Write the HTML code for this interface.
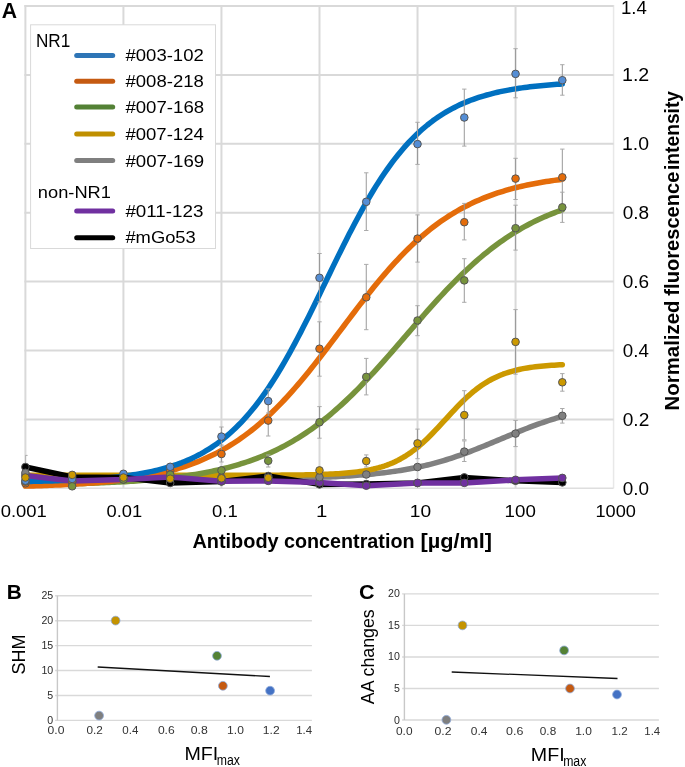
<!DOCTYPE html>
<html><head><meta charset="utf-8"><style>
html,body{margin:0;padding:0;background:#fff;}
body{width:685px;height:767px;position:relative;overflow:hidden;font-family:"Liberation Sans",sans-serif;}
svg{will-change:transform;}
</style></head><body>
<svg width="685" height="767" viewBox="0 0 685 767" style="position:absolute;left:0;top:0">
<rect width="685" height="767" fill="#fff"/>
<line x1="25.40" y1="5.00" x2="25.40" y2="488.30" stroke="#d9d9d9" stroke-width="2"/>
<line x1="123.43" y1="5.00" x2="123.43" y2="488.30" stroke="#d9d9d9" stroke-width="2"/>
<line x1="221.46" y1="5.00" x2="221.46" y2="488.30" stroke="#d9d9d9" stroke-width="2"/>
<line x1="319.49" y1="5.00" x2="319.49" y2="488.30" stroke="#d9d9d9" stroke-width="2"/>
<line x1="417.52" y1="5.00" x2="417.52" y2="488.30" stroke="#d9d9d9" stroke-width="2"/>
<line x1="515.55" y1="5.00" x2="515.55" y2="488.30" stroke="#d9d9d9" stroke-width="2"/>
<line x1="613.58" y1="5.00" x2="613.58" y2="488.30" stroke="#e8e8e8" stroke-width="1.5"/>
<line x1="24.40" y1="419.40" x2="613.58" y2="419.40" stroke="#d9d9d9" stroke-width="2"/>
<line x1="24.40" y1="350.50" x2="613.58" y2="350.50" stroke="#d9d9d9" stroke-width="2"/>
<line x1="24.40" y1="281.60" x2="613.58" y2="281.60" stroke="#d9d9d9" stroke-width="2"/>
<line x1="24.40" y1="212.70" x2="613.58" y2="212.70" stroke="#d9d9d9" stroke-width="2"/>
<line x1="24.40" y1="143.80" x2="613.58" y2="143.80" stroke="#d9d9d9" stroke-width="2"/>
<line x1="24.40" y1="74.90" x2="613.58" y2="74.90" stroke="#d9d9d9" stroke-width="2"/>
<line x1="24.40" y1="6.00" x2="613.58" y2="6.00" stroke="#d9d9d9" stroke-width="2"/>
<line x1="24.40" y1="488.30" x2="613.58" y2="488.30" stroke="#dedede" stroke-width="1.5"/>
<path d="M25.40,478.99L28.10,478.99L30.80,478.99L33.49,478.99L36.19,478.99L38.89,478.99L41.59,478.99L44.29,478.98L46.98,478.98L49.68,478.98L52.38,478.98L55.08,478.98L57.78,478.98L60.48,478.98L63.17,478.98L65.87,478.98L68.57,478.98L71.27,478.98L73.97,478.98L76.66,478.98L79.36,478.98L82.06,478.98L84.76,478.98L87.46,478.98L90.15,478.98L92.85,478.98L95.55,478.97L98.25,478.97L100.95,478.97L103.64,478.97L106.34,478.97L109.04,478.97L111.74,478.97L114.44,478.97L117.14,478.97L119.83,478.96L122.53,478.96L125.23,478.96L127.93,478.96L130.63,478.96L133.32,478.96L136.02,478.95L138.72,478.95L141.42,478.95L144.12,478.95L146.81,478.95L149.51,478.94L152.21,478.94L154.91,478.94L157.61,478.93L160.31,478.93L163.00,478.93L165.70,478.92L168.40,478.92L171.10,478.92L173.80,478.91L176.49,478.91L179.19,478.90L181.89,478.90L184.59,478.89L187.29,478.89L189.98,478.88L192.68,478.87L195.38,478.87L198.08,478.86L200.78,478.85L203.47,478.84L206.17,478.83L208.87,478.82L211.57,478.82L214.27,478.80L216.97,478.79L219.66,478.78L222.36,478.77L225.06,478.76L227.76,478.74L230.46,478.73L233.15,478.71L235.85,478.70L238.55,478.68L241.25,478.66L243.95,478.64L246.64,478.62L249.34,478.60L252.04,478.58L254.74,478.55L257.44,478.53L260.13,478.50L262.83,478.47L265.53,478.44L268.23,478.41L270.93,478.38L273.63,478.34L276.32,478.30L279.02,478.26L281.72,478.22L284.42,478.18L287.12,478.13L289.81,478.08L292.51,478.03L295.21,477.97L297.91,477.91L300.61,477.85L303.30,477.78L306.00,477.71L308.70,477.64L311.40,477.56L314.10,477.48L316.79,477.39L319.49,477.30L322.19,477.20L324.89,477.10L327.59,476.99L330.29,476.88L332.98,476.75L335.68,476.63L338.38,476.49L341.08,476.35L343.78,476.20L346.47,476.04L349.17,475.88L351.87,475.70L354.57,475.51L357.27,475.32L359.96,475.11L362.66,474.90L365.36,474.67L368.06,474.43L370.76,474.18L373.46,473.91L376.15,473.63L378.85,473.34L381.55,473.03L384.25,472.71L386.95,472.37L389.64,472.02L392.34,471.64L395.04,471.25L397.74,470.85L400.44,470.42L403.13,469.97L405.83,469.50L408.53,469.02L411.23,468.51L413.93,467.97L416.62,467.42L419.32,466.84L422.02,466.24L424.72,465.62L427.42,464.97L430.12,464.30L432.81,463.60L435.51,462.88L438.21,462.13L440.91,461.36L443.61,460.57L446.30,459.75L449.00,458.90L451.70,458.03L454.40,457.14L457.10,456.22L459.79,455.28L462.49,454.32L465.19,453.34L467.89,452.33L470.59,451.31L473.28,450.27L475.98,449.22L478.68,448.15L481.38,447.07L484.08,445.97L486.78,444.86L489.47,443.75L492.17,442.63L494.87,441.50L497.57,440.37L500.27,439.23L502.96,438.10L505.66,436.97L508.36,435.85L511.06,434.72L513.76,433.61L516.45,432.51L519.15,431.42L521.85,430.33L524.55,429.27L527.25,428.22L529.94,427.18L532.64,426.17L535.34,425.17L538.04,424.19L540.74,423.24L543.44,422.31L546.13,421.39L548.83,420.51L551.53,419.64L554.23,418.81L556.93,417.99L559.62,417.20L562.32,416.44" fill="none" stroke="#808080" stroke-width="5.5" stroke-linecap="round" stroke-linejoin="round"/>
<path d="M25.40,475.30L28.10,475.30L30.80,475.30L33.49,475.30L36.19,475.30L38.89,475.30L41.59,475.30L44.29,475.30L46.98,475.30L49.68,475.30L52.38,475.30L55.08,475.30L57.78,475.30L60.48,475.30L63.17,475.30L65.87,475.30L68.57,475.30L71.27,475.30L73.97,475.30L76.66,475.30L79.36,475.30L82.06,475.30L84.76,475.30L87.46,475.30L90.15,475.30L92.85,475.30L95.55,475.30L98.25,475.30L100.95,475.30L103.64,475.30L106.34,475.30L109.04,475.30L111.74,475.30L114.44,475.30L117.14,475.30L119.83,475.30L122.53,475.30L125.23,475.30L127.93,475.30L130.63,475.30L133.32,475.30L136.02,475.30L138.72,475.30L141.42,475.30L144.12,475.30L146.81,475.30L149.51,475.30L152.21,475.30L154.91,475.30L157.61,475.30L160.31,475.30L163.00,475.30L165.70,475.30L168.40,475.30L171.10,475.30L173.80,475.30L176.49,475.30L179.19,475.30L181.89,475.30L184.59,475.30L187.29,475.29L189.98,475.29L192.68,475.29L195.38,475.29L198.08,475.29L200.78,475.29L203.47,475.29L206.17,475.29L208.87,475.29L211.57,475.29L214.27,475.29L216.97,475.28L219.66,475.28L222.36,475.28L225.06,475.28L227.76,475.28L230.46,475.27L233.15,475.27L235.85,475.27L238.55,475.27L241.25,475.26L243.95,475.26L246.64,475.25L249.34,475.25L252.04,475.24L254.74,475.24L257.44,475.23L260.13,475.22L262.83,475.21L265.53,475.20L268.23,475.19L270.93,475.18L273.63,475.17L276.32,475.15L279.02,475.14L281.72,475.12L284.42,475.10L287.12,475.07L289.81,475.05L292.51,475.02L295.21,474.99L297.91,474.96L300.61,474.92L303.30,474.88L306.00,474.83L308.70,474.78L311.40,474.72L314.10,474.66L316.79,474.58L319.49,474.51L322.19,474.42L324.89,474.32L327.59,474.21L330.29,474.09L332.98,473.96L335.68,473.81L338.38,473.65L341.08,473.47L343.78,473.26L346.47,473.04L349.17,472.80L351.87,472.52L354.57,472.22L357.27,471.89L359.96,471.52L362.66,471.12L365.36,470.67L368.06,470.18L370.76,469.63L373.46,469.04L376.15,468.38L378.85,467.66L381.55,466.87L384.25,466.01L386.95,465.07L389.64,464.04L392.34,462.93L395.04,461.71L397.74,460.40L400.44,458.98L403.13,457.45L405.83,455.81L408.53,454.05L411.23,452.16L413.93,450.16L416.62,448.04L419.32,445.80L422.02,443.45L424.72,440.99L427.42,438.42L430.12,435.77L432.81,433.02L435.51,430.21L438.21,427.34L440.91,424.42L443.61,421.48L446.30,418.53L449.00,415.58L451.70,412.65L454.40,409.77L457.10,406.93L459.79,404.16L462.49,401.47L465.19,398.87L467.89,396.36L470.59,393.97L473.28,391.69L475.98,389.52L478.68,387.48L481.38,385.55L484.08,383.75L486.78,382.06L489.47,380.48L492.17,379.02L494.87,377.67L497.57,376.42L500.27,375.27L502.96,374.21L505.66,373.24L508.36,372.35L511.06,371.53L513.76,370.79L516.45,370.11L519.15,369.49L521.85,368.93L524.55,368.42L527.25,367.95L529.94,367.53L532.64,367.15L535.34,366.80L538.04,366.49L540.74,366.21L543.44,365.95L546.13,365.72L548.83,365.51L551.53,365.32L554.23,365.15L556.93,365.00L559.62,364.86L562.32,364.74" fill="none" stroke="#cc9900" stroke-width="5.5" stroke-linecap="round" stroke-linejoin="round"/>
<path d="M25.40,484.67L28.10,484.63L30.80,484.59L33.49,484.56L36.19,484.52L38.89,484.47L41.59,484.43L44.29,484.38L46.98,484.34L49.68,484.29L52.38,484.24L55.08,484.18L57.78,484.13L60.48,484.07L63.17,484.01L65.87,483.95L68.57,483.88L71.27,483.81L73.97,483.74L76.66,483.67L79.36,483.59L82.06,483.51L84.76,483.42L87.46,483.34L90.15,483.24L92.85,483.15L95.55,483.05L98.25,482.95L100.95,482.84L103.64,482.73L106.34,482.61L109.04,482.49L111.74,482.36L114.44,482.23L117.14,482.09L119.83,481.95L122.53,481.80L125.23,481.64L127.93,481.48L130.63,481.31L133.32,481.14L136.02,480.96L138.72,480.76L141.42,480.57L144.12,480.36L146.81,480.15L149.51,479.92L152.21,479.69L154.91,479.45L157.61,479.19L160.31,478.93L163.00,478.66L165.70,478.37L168.40,478.08L171.10,477.77L173.80,477.45L176.49,477.12L179.19,476.77L181.89,476.41L184.59,476.04L187.29,475.65L189.98,475.24L192.68,474.82L195.38,474.38L198.08,473.93L200.78,473.45L203.47,472.96L206.17,472.45L208.87,471.92L211.57,471.37L214.27,470.80L216.97,470.20L219.66,469.59L222.36,468.95L225.06,468.28L227.76,467.59L230.46,466.88L233.15,466.13L235.85,465.36L238.55,464.57L241.25,463.74L243.95,462.88L246.64,462.00L249.34,461.08L252.04,460.12L254.74,459.14L257.44,458.12L260.13,457.06L262.83,455.97L265.53,454.84L268.23,453.67L270.93,452.47L273.63,451.22L276.32,449.94L279.02,448.61L281.72,447.24L284.42,445.82L287.12,444.36L289.81,442.86L292.51,441.31L295.21,439.72L297.91,438.08L300.61,436.39L303.30,434.65L306.00,432.86L308.70,431.03L311.40,429.14L314.10,427.21L316.79,425.23L319.49,423.19L322.19,421.11L324.89,418.97L327.59,416.79L330.29,414.55L332.98,412.27L335.68,409.93L338.38,407.55L341.08,405.12L343.78,402.64L346.47,400.12L349.17,397.55L351.87,394.93L354.57,392.27L357.27,389.57L359.96,386.82L362.66,384.04L365.36,381.22L368.06,378.36L370.76,375.47L373.46,372.55L376.15,369.60L378.85,366.61L381.55,363.61L384.25,360.57L386.95,357.52L389.64,354.45L392.34,351.36L395.04,348.26L397.74,345.14L400.44,342.02L403.13,338.90L405.83,335.76L408.53,332.63L411.23,329.50L413.93,326.38L416.62,323.26L419.32,320.16L422.02,317.07L424.72,313.99L427.42,310.93L430.12,307.89L432.81,304.88L435.51,301.89L438.21,298.93L440.91,295.99L443.61,293.09L446.30,290.23L449.00,287.40L451.70,284.60L454.40,281.85L457.10,279.13L459.79,276.46L462.49,273.83L465.19,271.25L467.89,268.71L470.59,266.22L473.28,263.77L475.98,261.38L478.68,259.03L481.38,256.73L484.08,254.48L486.78,252.28L489.47,250.14L492.17,248.04L494.87,245.99L497.57,243.99L500.27,242.04L502.96,240.14L505.66,238.29L508.36,236.49L511.06,234.74L513.76,233.04L516.45,231.39L519.15,229.78L521.85,228.22L524.55,226.70L527.25,225.23L529.94,223.80L532.64,222.42L535.34,221.08L538.04,219.78L540.74,218.52L543.44,217.31L546.13,216.13L548.83,214.99L551.53,213.89L554.23,212.82L556.93,211.79L559.62,210.80L562.32,209.83" fill="none" stroke="#77933c" stroke-width="5.5" stroke-linecap="round" stroke-linejoin="round"/>
<path d="M25.40,486.11L28.10,486.03L30.80,485.96L33.49,485.88L36.19,485.80L38.89,485.72L41.59,485.63L44.29,485.53L46.98,485.43L49.68,485.33L52.38,485.23L55.08,485.11L57.78,485.00L60.48,484.88L63.17,484.75L65.87,484.61L68.57,484.47L71.27,484.33L73.97,484.18L76.66,484.02L79.36,483.85L82.06,483.67L84.76,483.49L87.46,483.30L90.15,483.10L92.85,482.89L95.55,482.68L98.25,482.45L100.95,482.21L103.64,481.96L106.34,481.70L109.04,481.43L111.74,481.15L114.44,480.85L117.14,480.54L119.83,480.22L122.53,479.88L125.23,479.53L127.93,479.17L130.63,478.78L133.32,478.38L136.02,477.96L138.72,477.53L141.42,477.07L144.12,476.60L146.81,476.10L149.51,475.59L152.21,475.05L154.91,474.49L157.61,473.90L160.31,473.29L163.00,472.65L165.70,471.99L168.40,471.30L171.10,470.58L173.80,469.83L176.49,469.05L179.19,468.24L181.89,467.39L184.59,466.52L187.29,465.60L189.98,464.65L192.68,463.66L195.38,462.63L198.08,461.57L200.78,460.46L203.47,459.31L206.17,458.11L208.87,456.87L211.57,455.59L214.27,454.25L216.97,452.87L219.66,451.44L222.36,449.95L225.06,448.42L227.76,446.83L230.46,445.19L233.15,443.49L235.85,441.73L238.55,439.92L241.25,438.05L243.95,436.12L246.64,434.12L249.34,432.07L252.04,429.96L254.74,427.79L257.44,425.55L260.13,423.25L262.83,420.89L265.53,418.46L268.23,415.97L270.93,413.42L273.63,410.81L276.32,408.14L279.02,405.40L281.72,402.61L284.42,399.75L287.12,396.84L289.81,393.87L292.51,390.84L295.21,387.77L297.91,384.64L300.61,381.46L303.30,378.23L306.00,374.95L308.70,371.64L311.40,368.28L314.10,364.89L316.79,361.46L319.49,358.00L322.19,354.51L324.89,351.00L327.59,347.47L330.29,343.91L332.98,340.35L335.68,336.77L338.38,333.19L341.08,329.60L343.78,326.01L346.47,322.42L349.17,318.85L351.87,315.28L354.57,311.73L357.27,308.20L359.96,304.69L362.66,301.21L365.36,297.75L368.06,294.33L370.76,290.94L373.46,287.58L376.15,284.27L378.85,281.00L381.55,277.78L384.25,274.61L386.95,271.48L389.64,268.41L392.34,265.39L395.04,262.43L397.74,259.52L400.44,256.67L403.13,253.88L405.83,251.15L408.53,248.49L411.23,245.88L413.93,243.34L416.62,240.86L419.32,238.44L422.02,236.08L424.72,233.79L427.42,231.56L430.12,229.39L432.81,227.29L435.51,225.24L438.21,223.26L440.91,221.33L443.61,219.47L446.30,217.66L449.00,215.91L451.70,214.22L454.40,212.58L457.10,211.00L459.79,209.47L462.49,207.99L465.19,206.57L467.89,205.19L470.59,203.86L473.28,202.58L475.98,201.34L478.68,200.15L481.38,199.01L484.08,197.90L486.78,196.84L489.47,195.82L492.17,194.83L494.87,193.89L497.57,192.98L500.27,192.10L502.96,191.26L505.66,190.45L508.36,189.67L511.06,188.93L513.76,188.21L516.45,187.53L519.15,186.87L521.85,186.23L524.55,185.62L527.25,185.04L529.94,184.48L532.64,183.95L535.34,183.43L538.04,182.94L540.74,182.47L543.44,182.01L546.13,181.58L548.83,181.16L551.53,180.77L554.23,180.38L556.93,180.02L559.62,179.67L562.32,179.33" fill="none" stroke="#e46c0a" stroke-width="5.5" stroke-linecap="round" stroke-linejoin="round"/>
<path d="M25.40,481.49L28.10,481.45L30.80,481.40L33.49,481.34L36.19,481.29L38.89,481.23L41.59,481.17L44.29,481.10L46.98,481.03L49.68,480.96L52.38,480.88L55.08,480.80L57.78,480.71L60.48,480.62L63.17,480.52L65.87,480.42L68.57,480.31L71.27,480.20L73.97,480.08L76.66,479.95L79.36,479.82L82.06,479.68L84.76,479.52L87.46,479.37L90.15,479.20L92.85,479.02L95.55,478.83L98.25,478.64L100.95,478.43L103.64,478.21L106.34,477.98L109.04,477.73L111.74,477.47L114.44,477.20L117.14,476.91L119.83,476.61L122.53,476.28L125.23,475.94L127.93,475.59L130.63,475.21L133.32,474.81L136.02,474.39L138.72,473.95L141.42,473.48L144.12,472.98L146.81,472.46L149.51,471.92L152.21,471.34L154.91,470.73L157.61,470.09L160.31,469.41L163.00,468.70L165.70,467.95L168.40,467.16L171.10,466.33L173.80,465.45L176.49,464.53L179.19,463.56L181.89,462.55L184.59,461.47L187.29,460.35L189.98,459.17L192.68,457.93L195.38,456.62L198.08,455.25L200.78,453.82L203.47,452.31L206.17,450.73L208.87,449.08L211.57,447.35L214.27,445.53L216.97,443.63L219.66,441.65L222.36,439.57L225.06,437.41L227.76,435.14L230.46,432.78L233.15,430.32L235.85,427.75L238.55,425.08L241.25,422.30L243.95,419.41L246.64,416.41L249.34,413.30L252.04,410.06L254.74,406.72L257.44,403.25L260.13,399.66L262.83,395.96L265.53,392.14L268.23,388.19L270.93,384.14L273.63,379.96L276.32,375.67L279.02,371.26L281.72,366.75L284.42,362.12L287.12,357.40L289.81,352.57L292.51,347.65L295.21,342.64L297.91,337.54L300.61,332.36L303.30,327.11L306.00,321.79L308.70,316.41L311.40,310.98L314.10,305.51L316.79,300.00L319.49,294.46L322.19,288.91L324.89,283.34L327.59,277.77L330.29,272.20L332.98,266.65L335.68,261.12L338.38,255.63L341.08,250.17L343.78,244.76L346.47,239.40L349.17,234.11L351.87,228.89L354.57,223.74L357.27,218.67L359.96,213.69L362.66,208.81L365.36,204.02L368.06,199.33L370.76,194.75L373.46,190.28L376.15,185.92L378.85,181.67L381.55,177.54L384.25,173.52L386.95,169.63L389.64,165.85L392.34,162.19L395.04,158.65L397.74,155.23L400.44,151.93L403.13,148.74L405.83,145.67L408.53,142.71L411.23,139.87L413.93,137.13L416.62,134.50L419.32,131.97L422.02,129.55L424.72,127.23L427.42,125.00L430.12,122.87L432.81,120.83L435.51,118.88L438.21,117.01L440.91,115.23L443.61,113.53L446.30,111.90L449.00,110.35L451.70,108.87L454.40,107.47L457.10,106.12L459.79,104.84L462.49,103.62L465.19,102.46L467.89,101.36L470.59,100.31L473.28,99.31L475.98,98.36L478.68,97.46L481.38,96.60L484.08,95.79L486.78,95.01L489.47,94.28L492.17,93.58L494.87,92.92L497.57,92.29L500.27,91.69L502.96,91.12L505.66,90.59L508.36,90.08L511.06,89.59L513.76,89.14L516.45,88.70L519.15,88.29L521.85,87.90L524.55,87.53L527.25,87.18L529.94,86.85L532.64,86.53L535.34,86.23L538.04,85.95L540.74,85.68L543.44,85.43L546.13,85.19L548.83,84.96L551.53,84.74L554.23,84.54L556.93,84.35L559.62,84.16L562.32,83.99" fill="none" stroke="#0070c0" stroke-width="5.5" stroke-linecap="round" stroke-linejoin="round"/>
<path d="M25.40,467.00L72.17,477.00L123.43,477.50L170.20,483.00L221.46,481.50L268.23,476.00L319.49,484.40L366.26,484.00L417.52,483.00L464.29,477.40L515.55,480.80L562.32,482.40" fill="none" stroke="#000000" stroke-width="5.5" stroke-linecap="round" stroke-linejoin="round"/>
<path d="M25.40,475.40L72.17,481.00L123.43,479.40L170.20,476.90L221.46,481.30L268.23,480.90L319.49,482.50L366.26,485.70L417.52,482.90L464.29,482.90L515.55,479.80L562.32,477.90" fill="none" stroke="#7030a0" stroke-width="5.5" stroke-linecap="round" stroke-linejoin="round"/>
<defs><clipPath id="pc"><rect x="25.4" y="0" width="588.2" height="490"/></clipPath></defs><g clip-path="url(#pc)">
<path d="M25.40,455.40V467.00" stroke="#999" stroke-width="1" fill="none"/>
<path d="M23.20,455.40h4.4M23.20,467.00h4.4" stroke="#aaa" stroke-width="1" fill="none"/>
<path d="M464.29,440.90V461.50" stroke="#999" stroke-width="1" fill="none"/>
<path d="M462.09,440.90h4.4M462.09,461.50h4.4" stroke="#aaa" stroke-width="1" fill="none"/>
<path d="M515.55,420.40V446.60" stroke="#999" stroke-width="1" fill="none"/>
<path d="M513.35,420.40h4.4M513.35,446.60h4.4" stroke="#aaa" stroke-width="1" fill="none"/>
<path d="M562.32,408.50V423.10" stroke="#999" stroke-width="1" fill="none"/>
<path d="M560.12,408.50h4.4M560.12,423.10h4.4" stroke="#aaa" stroke-width="1" fill="none"/>
<path d="M221.46,445.00V462.00" stroke="#999" stroke-width="1" fill="none"/>
<path d="M219.26,445.00h4.4M219.26,462.00h4.4" stroke="#aaa" stroke-width="1" fill="none"/>
<path d="M268.23,400.00V436.00" stroke="#999" stroke-width="1" fill="none"/>
<path d="M266.03,400.00h4.4M266.03,436.00h4.4" stroke="#aaa" stroke-width="1" fill="none"/>
<path d="M319.49,321.80V376.20" stroke="#999" stroke-width="1" fill="none"/>
<path d="M317.29,321.80h4.4M317.29,376.20h4.4" stroke="#aaa" stroke-width="1" fill="none"/>
<path d="M366.26,264.40V329.70" stroke="#999" stroke-width="1" fill="none"/>
<path d="M364.06,264.40h4.4M364.06,329.70h4.4" stroke="#aaa" stroke-width="1" fill="none"/>
<path d="M417.52,214.90V262.10" stroke="#999" stroke-width="1" fill="none"/>
<path d="M415.32,214.90h4.4M415.32,262.10h4.4" stroke="#aaa" stroke-width="1" fill="none"/>
<path d="M464.29,203.40V239.90" stroke="#999" stroke-width="1" fill="none"/>
<path d="M462.09,203.40h4.4M462.09,239.90h4.4" stroke="#aaa" stroke-width="1" fill="none"/>
<path d="M515.55,158.30V199.50" stroke="#999" stroke-width="1" fill="none"/>
<path d="M513.35,158.30h4.4M513.35,199.50h4.4" stroke="#aaa" stroke-width="1" fill="none"/>
<path d="M562.32,149.10V205.00" stroke="#999" stroke-width="1" fill="none"/>
<path d="M560.12,149.10h4.4M560.12,205.00h4.4" stroke="#aaa" stroke-width="1" fill="none"/>
<path d="M268.23,455.00V467.00" stroke="#999" stroke-width="1" fill="none"/>
<path d="M266.03,455.00h4.4M266.03,467.00h4.4" stroke="#aaa" stroke-width="1" fill="none"/>
<path d="M319.49,406.60V438.20" stroke="#999" stroke-width="1" fill="none"/>
<path d="M317.29,406.60h4.4M317.29,438.20h4.4" stroke="#aaa" stroke-width="1" fill="none"/>
<path d="M366.26,358.40V394.90" stroke="#999" stroke-width="1" fill="none"/>
<path d="M364.06,358.40h4.4M364.06,394.90h4.4" stroke="#aaa" stroke-width="1" fill="none"/>
<path d="M417.52,305.70V335.70" stroke="#999" stroke-width="1" fill="none"/>
<path d="M415.32,305.70h4.4M415.32,335.70h4.4" stroke="#aaa" stroke-width="1" fill="none"/>
<path d="M464.29,258.70V302.30" stroke="#999" stroke-width="1" fill="none"/>
<path d="M462.09,258.70h4.4M462.09,302.30h4.4" stroke="#aaa" stroke-width="1" fill="none"/>
<path d="M515.55,205.20V250.10" stroke="#999" stroke-width="1" fill="none"/>
<path d="M513.35,205.20h4.4M513.35,250.10h4.4" stroke="#aaa" stroke-width="1" fill="none"/>
<path d="M562.32,192.20V222.40" stroke="#999" stroke-width="1" fill="none"/>
<path d="M560.12,192.20h4.4M560.12,222.40h4.4" stroke="#aaa" stroke-width="1" fill="none"/>
<path d="M221.46,427.00V446.00" stroke="#999" stroke-width="1" fill="none"/>
<path d="M219.26,427.00h4.4M219.26,446.00h4.4" stroke="#aaa" stroke-width="1" fill="none"/>
<path d="M268.23,389.00V413.00" stroke="#999" stroke-width="1" fill="none"/>
<path d="M266.03,389.00h4.4M266.03,413.00h4.4" stroke="#aaa" stroke-width="1" fill="none"/>
<path d="M319.49,253.50V301.90" stroke="#999" stroke-width="1" fill="none"/>
<path d="M317.29,253.50h4.4M317.29,301.90h4.4" stroke="#aaa" stroke-width="1" fill="none"/>
<path d="M366.26,172.80V230.50" stroke="#999" stroke-width="1" fill="none"/>
<path d="M364.06,172.80h4.4M364.06,230.50h4.4" stroke="#aaa" stroke-width="1" fill="none"/>
<path d="M417.52,122.30V164.40" stroke="#999" stroke-width="1" fill="none"/>
<path d="M415.32,122.30h4.4M415.32,164.40h4.4" stroke="#aaa" stroke-width="1" fill="none"/>
<path d="M464.29,89.10V146.10" stroke="#999" stroke-width="1" fill="none"/>
<path d="M462.09,89.10h4.4M462.09,146.10h4.4" stroke="#aaa" stroke-width="1" fill="none"/>
<path d="M515.55,48.70V97.80" stroke="#999" stroke-width="1" fill="none"/>
<path d="M513.35,48.70h4.4M513.35,97.80h4.4" stroke="#aaa" stroke-width="1" fill="none"/>
<path d="M562.32,64.70V95.20" stroke="#999" stroke-width="1" fill="none"/>
<path d="M560.12,64.70h4.4M560.12,95.20h4.4" stroke="#aaa" stroke-width="1" fill="none"/>
<path d="M366.26,454.90V467.00" stroke="#999" stroke-width="1" fill="none"/>
<path d="M364.06,454.90h4.4M364.06,467.00h4.4" stroke="#aaa" stroke-width="1" fill="none"/>
<path d="M417.52,429.10V458.70" stroke="#999" stroke-width="1" fill="none"/>
<path d="M415.32,429.10h4.4M415.32,458.70h4.4" stroke="#aaa" stroke-width="1" fill="none"/>
<path d="M464.29,390.70V439.80" stroke="#999" stroke-width="1" fill="none"/>
<path d="M462.09,390.70h4.4M462.09,439.80h4.4" stroke="#aaa" stroke-width="1" fill="none"/>
<path d="M515.55,309.60V374.20" stroke="#999" stroke-width="1" fill="none"/>
<path d="M513.35,309.60h4.4M513.35,374.20h4.4" stroke="#aaa" stroke-width="1" fill="none"/>
<path d="M562.32,373.60V391.20" stroke="#999" stroke-width="1" fill="none"/>
<path d="M560.12,373.60h4.4M560.12,391.20h4.4" stroke="#aaa" stroke-width="1" fill="none"/>
</g>
<circle cx="25.40" cy="467.00" r="3.8" fill="#000000" stroke="#555" stroke-width="1"/>
<circle cx="72.17" cy="477.00" r="3.8" fill="#000000" stroke="#555" stroke-width="1"/>
<circle cx="123.43" cy="477.50" r="3.8" fill="#000000" stroke="#555" stroke-width="1"/>
<circle cx="170.20" cy="483.00" r="3.8" fill="#000000" stroke="#555" stroke-width="1"/>
<circle cx="221.46" cy="481.50" r="3.8" fill="#000000" stroke="#555" stroke-width="1"/>
<circle cx="268.23" cy="476.00" r="3.8" fill="#000000" stroke="#555" stroke-width="1"/>
<circle cx="319.49" cy="484.40" r="3.8" fill="#000000" stroke="#555" stroke-width="1"/>
<circle cx="366.26" cy="484.00" r="3.8" fill="#000000" stroke="#555" stroke-width="1"/>
<circle cx="417.52" cy="483.00" r="3.8" fill="#000000" stroke="#555" stroke-width="1"/>
<circle cx="464.29" cy="477.40" r="3.8" fill="#000000" stroke="#555" stroke-width="1"/>
<circle cx="515.55" cy="480.80" r="3.8" fill="#000000" stroke="#555" stroke-width="1"/>
<circle cx="562.32" cy="482.40" r="3.8" fill="#000000" stroke="#555" stroke-width="1"/>
<circle cx="25.40" cy="475.40" r="3.8" fill="#7030a0" stroke="#555" stroke-width="1"/>
<circle cx="72.17" cy="481.00" r="3.8" fill="#7030a0" stroke="#555" stroke-width="1"/>
<circle cx="123.43" cy="479.40" r="3.8" fill="#7030a0" stroke="#555" stroke-width="1"/>
<circle cx="170.20" cy="476.90" r="3.8" fill="#7030a0" stroke="#555" stroke-width="1"/>
<circle cx="221.46" cy="481.30" r="3.8" fill="#7030a0" stroke="#555" stroke-width="1"/>
<circle cx="268.23" cy="480.90" r="3.8" fill="#7030a0" stroke="#555" stroke-width="1"/>
<circle cx="319.49" cy="482.50" r="3.8" fill="#7030a0" stroke="#555" stroke-width="1"/>
<circle cx="366.26" cy="485.70" r="3.8" fill="#7030a0" stroke="#555" stroke-width="1"/>
<circle cx="417.52" cy="482.90" r="3.8" fill="#7030a0" stroke="#555" stroke-width="1"/>
<circle cx="464.29" cy="482.90" r="3.8" fill="#7030a0" stroke="#555" stroke-width="1"/>
<circle cx="515.55" cy="479.80" r="3.8" fill="#7030a0" stroke="#555" stroke-width="1"/>
<circle cx="562.32" cy="477.90" r="3.8" fill="#7030a0" stroke="#555" stroke-width="1"/>
<circle cx="25.40" cy="472.80" r="3.8" fill="#808080" stroke="#555" stroke-width="1"/>
<circle cx="72.17" cy="482.40" r="3.8" fill="#808080" stroke="#555" stroke-width="1"/>
<circle cx="123.43" cy="479.00" r="3.8" fill="#808080" stroke="#555" stroke-width="1"/>
<circle cx="170.20" cy="478.00" r="3.8" fill="#808080" stroke="#555" stroke-width="1"/>
<circle cx="221.46" cy="477.50" r="3.8" fill="#808080" stroke="#555" stroke-width="1"/>
<circle cx="268.23" cy="477.50" r="3.8" fill="#808080" stroke="#555" stroke-width="1"/>
<circle cx="319.49" cy="477.20" r="3.8" fill="#808080" stroke="#555" stroke-width="1"/>
<circle cx="366.26" cy="474.50" r="3.8" fill="#808080" stroke="#555" stroke-width="1"/>
<circle cx="417.52" cy="467.00" r="3.8" fill="#808080" stroke="#555" stroke-width="1"/>
<circle cx="464.29" cy="451.60" r="3.8" fill="#808080" stroke="#555" stroke-width="1"/>
<circle cx="515.55" cy="433.60" r="3.8" fill="#808080" stroke="#555" stroke-width="1"/>
<circle cx="562.32" cy="415.80" r="3.8" fill="#808080" stroke="#555" stroke-width="1"/>
<circle cx="25.40" cy="483.30" r="3.8" fill="#e46c0a" stroke="#555" stroke-width="1"/>
<circle cx="72.17" cy="481.50" r="3.8" fill="#e46c0a" stroke="#555" stroke-width="1"/>
<circle cx="123.43" cy="478.00" r="3.8" fill="#e46c0a" stroke="#555" stroke-width="1"/>
<circle cx="170.20" cy="470.80" r="3.8" fill="#e46c0a" stroke="#555" stroke-width="1"/>
<circle cx="221.46" cy="454.00" r="3.8" fill="#e46c0a" stroke="#555" stroke-width="1"/>
<circle cx="268.23" cy="420.60" r="3.8" fill="#e46c0a" stroke="#555" stroke-width="1"/>
<circle cx="319.49" cy="348.70" r="3.8" fill="#e46c0a" stroke="#555" stroke-width="1"/>
<circle cx="366.26" cy="297.30" r="3.8" fill="#e46c0a" stroke="#555" stroke-width="1"/>
<circle cx="417.52" cy="238.60" r="3.8" fill="#e46c0a" stroke="#555" stroke-width="1"/>
<circle cx="464.29" cy="222.20" r="3.8" fill="#e46c0a" stroke="#555" stroke-width="1"/>
<circle cx="515.55" cy="178.60" r="3.8" fill="#e46c0a" stroke="#555" stroke-width="1"/>
<circle cx="562.32" cy="177.30" r="3.8" fill="#e46c0a" stroke="#555" stroke-width="1"/>
<circle cx="25.40" cy="481.50" r="3.8" fill="#77933c" stroke="#555" stroke-width="1"/>
<circle cx="72.17" cy="486.30" r="3.8" fill="#77933c" stroke="#555" stroke-width="1"/>
<circle cx="123.43" cy="479.50" r="3.8" fill="#77933c" stroke="#555" stroke-width="1"/>
<circle cx="170.20" cy="474.60" r="3.8" fill="#77933c" stroke="#555" stroke-width="1"/>
<circle cx="221.46" cy="470.40" r="3.8" fill="#77933c" stroke="#555" stroke-width="1"/>
<circle cx="268.23" cy="460.80" r="3.8" fill="#77933c" stroke="#555" stroke-width="1"/>
<circle cx="319.49" cy="422.30" r="3.8" fill="#77933c" stroke="#555" stroke-width="1"/>
<circle cx="366.26" cy="376.90" r="3.8" fill="#77933c" stroke="#555" stroke-width="1"/>
<circle cx="417.52" cy="320.50" r="3.8" fill="#77933c" stroke="#555" stroke-width="1"/>
<circle cx="464.29" cy="280.40" r="3.8" fill="#77933c" stroke="#555" stroke-width="1"/>
<circle cx="515.55" cy="228.20" r="3.8" fill="#77933c" stroke="#555" stroke-width="1"/>
<circle cx="562.32" cy="207.30" r="3.8" fill="#77933c" stroke="#555" stroke-width="1"/>
<circle cx="25.40" cy="480.70" r="3.8" fill="#558ed5" stroke="#555" stroke-width="1"/>
<circle cx="72.17" cy="478.90" r="3.8" fill="#558ed5" stroke="#555" stroke-width="1"/>
<circle cx="123.43" cy="473.80" r="3.8" fill="#558ed5" stroke="#555" stroke-width="1"/>
<circle cx="170.20" cy="466.80" r="3.8" fill="#558ed5" stroke="#555" stroke-width="1"/>
<circle cx="221.46" cy="436.60" r="3.8" fill="#558ed5" stroke="#555" stroke-width="1"/>
<circle cx="268.23" cy="401.10" r="3.8" fill="#558ed5" stroke="#555" stroke-width="1"/>
<circle cx="319.49" cy="277.80" r="3.8" fill="#558ed5" stroke="#555" stroke-width="1"/>
<circle cx="366.26" cy="201.80" r="3.8" fill="#558ed5" stroke="#555" stroke-width="1"/>
<circle cx="417.52" cy="144.10" r="3.8" fill="#558ed5" stroke="#555" stroke-width="1"/>
<circle cx="464.29" cy="117.50" r="3.8" fill="#558ed5" stroke="#555" stroke-width="1"/>
<circle cx="515.55" cy="73.90" r="3.8" fill="#558ed5" stroke="#555" stroke-width="1"/>
<circle cx="562.32" cy="80.20" r="3.8" fill="#558ed5" stroke="#555" stroke-width="1"/>
<circle cx="25.40" cy="477.50" r="3.8" fill="#cc9900" stroke="#555" stroke-width="1"/>
<circle cx="72.17" cy="474.90" r="3.8" fill="#cc9900" stroke="#555" stroke-width="1"/>
<circle cx="123.43" cy="477.50" r="3.8" fill="#cc9900" stroke="#555" stroke-width="1"/>
<circle cx="170.20" cy="478.70" r="3.8" fill="#cc9900" stroke="#555" stroke-width="1"/>
<circle cx="221.46" cy="478.30" r="3.8" fill="#cc9900" stroke="#555" stroke-width="1"/>
<circle cx="268.23" cy="477.80" r="3.8" fill="#cc9900" stroke="#555" stroke-width="1"/>
<circle cx="319.49" cy="470.40" r="3.8" fill="#cc9900" stroke="#555" stroke-width="1"/>
<circle cx="366.26" cy="461.10" r="3.8" fill="#cc9900" stroke="#555" stroke-width="1"/>
<circle cx="417.52" cy="443.40" r="3.8" fill="#cc9900" stroke="#555" stroke-width="1"/>
<circle cx="464.29" cy="415.10" r="3.8" fill="#cc9900" stroke="#555" stroke-width="1"/>
<circle cx="515.55" cy="341.90" r="3.8" fill="#cc9900" stroke="#555" stroke-width="1"/>
<circle cx="562.32" cy="382.30" r="3.8" fill="#cc9900" stroke="#555" stroke-width="1"/>
<rect x="30.6" y="24.8" width="184.9" height="223.7" fill="#fff" stroke="#d9d9d9" stroke-width="1"/>
<line x1="76.7" y1="55.6" x2="112.7" y2="55.6" stroke="#2e75b6" stroke-width="5" stroke-linecap="round"/>
<line x1="76.7" y1="81.3" x2="112.7" y2="81.3" stroke="#c55a11" stroke-width="5" stroke-linecap="round"/>
<line x1="76.7" y1="106.9" x2="112.7" y2="106.9" stroke="#538135" stroke-width="5" stroke-linecap="round"/>
<line x1="76.7" y1="134.1" x2="112.7" y2="134.1" stroke="#bf8f00" stroke-width="5" stroke-linecap="round"/>
<line x1="76.7" y1="160.6" x2="112.7" y2="160.6" stroke="#7f7f7f" stroke-width="5" stroke-linecap="round"/>
<line x1="76.7" y1="211.1" x2="112.7" y2="211.1" stroke="#7030a0" stroke-width="5" stroke-linecap="round"/>
<line x1="76.7" y1="237.7" x2="112.7" y2="237.7" stroke="#000000" stroke-width="5" stroke-linecap="round"/>
<text x="125.51" y="60.90" font-family="Liberation Sans, sans-serif" font-size="17.3" fill="#000" textLength="78.24" lengthAdjust="spacingAndGlyphs" >#003-102</text>
<text x="125.51" y="86.60" font-family="Liberation Sans, sans-serif" font-size="17.3" fill="#000" textLength="78.30" lengthAdjust="spacingAndGlyphs" >#008-218</text>
<text x="125.41" y="112.50" font-family="Liberation Sans, sans-serif" font-size="17.3" fill="#000" textLength="78.71" lengthAdjust="spacingAndGlyphs" >#007-168</text>
<text x="125.41" y="139.50" font-family="Liberation Sans, sans-serif" font-size="17.3" fill="#000" textLength="78.43" lengthAdjust="spacingAndGlyphs" >#007-124</text>
<text x="125.41" y="166.50" font-family="Liberation Sans, sans-serif" font-size="17.3" fill="#000" textLength="78.75" lengthAdjust="spacingAndGlyphs" >#007-169</text>
<text x="125.41" y="216.60" font-family="Liberation Sans, sans-serif" font-size="17.3" fill="#000" textLength="78.03" lengthAdjust="spacingAndGlyphs" >#011-123</text>
<text x="125.41" y="243.20" font-family="Liberation Sans, sans-serif" font-size="17.3" fill="#000" textLength="70.38" lengthAdjust="spacingAndGlyphs" >#mGo53</text>
<text x="35.98" y="46.70" font-family="Liberation Sans, sans-serif" font-size="17.6" fill="#000" textLength="34.34" lengthAdjust="spacingAndGlyphs" >NR1</text>
<text x="37.87" y="198.40" font-family="Liberation Sans, sans-serif" font-size="17.3" fill="#000" textLength="73.04" lengthAdjust="spacingAndGlyphs" >non-NR1</text>
<text x="622.74" y="494.60" font-family="Liberation Sans, sans-serif" font-size="17.5" fill="#000" textLength="26.27" lengthAdjust="spacingAndGlyphs" >0.0</text>
<text x="622.74" y="425.70" font-family="Liberation Sans, sans-serif" font-size="17.5" fill="#000" textLength="26.52" lengthAdjust="spacingAndGlyphs" >0.2</text>
<text x="622.75" y="356.80" font-family="Liberation Sans, sans-serif" font-size="17.5" fill="#000" textLength="26.07" lengthAdjust="spacingAndGlyphs" >0.4</text>
<text x="622.74" y="287.90" font-family="Liberation Sans, sans-serif" font-size="17.5" fill="#000" textLength="26.37" lengthAdjust="spacingAndGlyphs" >0.6</text>
<text x="622.74" y="219.00" font-family="Liberation Sans, sans-serif" font-size="17.5" fill="#000" textLength="26.37" lengthAdjust="spacingAndGlyphs" >0.8</text>
<text x="622.04" y="150.10" font-family="Liberation Sans, sans-serif" font-size="17.5" fill="#000" textLength="26.99" lengthAdjust="spacingAndGlyphs" >1.0</text>
<text x="622.03" y="81.20" font-family="Liberation Sans, sans-serif" font-size="17.5" fill="#000" textLength="27.25" lengthAdjust="spacingAndGlyphs" >1.2</text>
<text x="620.90" y="14.20" font-family="Liberation Sans, sans-serif" font-size="17.5" fill="#000" textLength="25.91" lengthAdjust="spacingAndGlyphs" >1.4</text>
<text x="0.66" y="517.30" font-family="Liberation Sans, sans-serif" font-size="17.4" fill="#000" textLength="46.11" lengthAdjust="spacingAndGlyphs" >0.001</text>
<text x="106.47" y="517.30" font-family="Liberation Sans, sans-serif" font-size="17.4" fill="#000" textLength="35.63" lengthAdjust="spacingAndGlyphs" >0.01</text>
<text x="212.06" y="517.30" font-family="Liberation Sans, sans-serif" font-size="17.4" fill="#000" textLength="25.72" lengthAdjust="spacingAndGlyphs" >0.1</text>
<text x="315.97" y="517.30" font-family="Liberation Sans, sans-serif" font-size="17.4" fill="#000" textLength="11.32" lengthAdjust="spacingAndGlyphs" >1</text>
<text x="409.76" y="517.30" font-family="Liberation Sans, sans-serif" font-size="17.4" fill="#000" textLength="21.30" lengthAdjust="spacingAndGlyphs" >10</text>
<text x="504.60" y="517.30" font-family="Liberation Sans, sans-serif" font-size="17.4" fill="#000" textLength="31.22" lengthAdjust="spacingAndGlyphs" >100</text>
<text x="595.44" y="517.30" font-family="Liberation Sans, sans-serif" font-size="17.4" fill="#000" textLength="40.38" lengthAdjust="spacingAndGlyphs" >1000</text>
<text x="192.40" y="547.80" font-family="Liberation Sans, sans-serif" font-size="19.8" font-weight="bold" fill="#000" textLength="86.30" lengthAdjust="spacingAndGlyphs" >Antibody</text>
<text x="284.01" y="547.80" font-family="Liberation Sans, sans-serif" font-size="19.8" font-weight="bold" fill="#000" textLength="130.51" lengthAdjust="spacingAndGlyphs" >concentration</text>
<text x="420.40" y="547.80" font-family="Liberation Sans, sans-serif" font-size="19.8" font-weight="bold" fill="#000" textLength="71.70" lengthAdjust="spacingAndGlyphs" >[µg/ml]</text>
<text transform="translate(678.6,409) rotate(-90)" x="-1.38" y="0" font-family="Liberation Sans, sans-serif" font-size="20.4" font-weight="bold" fill="#000" textLength="109.81" lengthAdjust="spacingAndGlyphs">Normalized</text>
<text transform="translate(678.6,409) rotate(-90)" x="113.35" y="0" font-family="Liberation Sans, sans-serif" font-size="20.4" font-weight="bold" fill="#000" textLength="124.15" lengthAdjust="spacingAndGlyphs">fluorescence</text>
<text transform="translate(678.6,409) rotate(-90)" x="238.95" y="0" font-family="Liberation Sans, sans-serif" font-size="20.4" font-weight="bold" fill="#000" textLength="79.08" lengthAdjust="spacingAndGlyphs">intensity</text>
<text x="1.87" y="17.90" font-family="Liberation Sans, sans-serif" font-size="21.6" font-weight="bold" fill="#000" textLength="15.31" lengthAdjust="spacingAndGlyphs" >A</text>
<line x1="55.10" y1="720.40" x2="311.90" y2="720.40" stroke="#d9d9d9" stroke-width="1.4"/>
<text x="47.31" y="723.90" font-family="Liberation Sans, sans-serif" font-size="10.3" fill="#2a2a2a" textLength="5.90" lengthAdjust="spacingAndGlyphs" >0</text>
<line x1="55.10" y1="695.48" x2="311.90" y2="695.48" stroke="#d9d9d9" stroke-width="1.4"/>
<text x="47.34" y="698.98" font-family="Liberation Sans, sans-serif" font-size="10.3" fill="#2a2a2a" textLength="5.90" lengthAdjust="spacingAndGlyphs" >5</text>
<line x1="55.10" y1="670.56" x2="311.90" y2="670.56" stroke="#d9d9d9" stroke-width="1.4"/>
<text x="41.42" y="674.06" font-family="Liberation Sans, sans-serif" font-size="10.3" fill="#2a2a2a" textLength="11.80" lengthAdjust="spacingAndGlyphs" >10</text>
<line x1="55.10" y1="645.64" x2="311.90" y2="645.64" stroke="#d9d9d9" stroke-width="1.4"/>
<text x="41.45" y="649.14" font-family="Liberation Sans, sans-serif" font-size="10.3" fill="#2a2a2a" textLength="11.80" lengthAdjust="spacingAndGlyphs" >15</text>
<line x1="55.10" y1="620.72" x2="311.90" y2="620.72" stroke="#d9d9d9" stroke-width="1.4"/>
<text x="41.42" y="624.22" font-family="Liberation Sans, sans-serif" font-size="10.3" fill="#2a2a2a" textLength="11.80" lengthAdjust="spacingAndGlyphs" >20</text>
<line x1="55.10" y1="595.80" x2="311.90" y2="595.80" stroke="#d9d9d9" stroke-width="1.4"/>
<text x="41.45" y="599.30" font-family="Liberation Sans, sans-serif" font-size="10.3" fill="#2a2a2a" textLength="11.80" lengthAdjust="spacingAndGlyphs" >25</text>
<line x1="57.40" y1="595.80" x2="57.40" y2="720.40" stroke="#c8c8c8" stroke-width="1.4"/>
<text x="47.62" y="733.90" font-family="Liberation Sans, sans-serif" font-size="11.4" fill="#333" textLength="16.84" lengthAdjust="spacingAndGlyphs" >0.0</text>
<text x="86.43" y="733.90" font-family="Liberation Sans, sans-serif" font-size="11.4" fill="#333" textLength="16.36" lengthAdjust="spacingAndGlyphs" >0.2</text>
<text x="122.24" y="733.90" font-family="Liberation Sans, sans-serif" font-size="11.4" fill="#333" textLength="16.08" lengthAdjust="spacingAndGlyphs" >0.4</text>
<text x="157.92" y="733.90" font-family="Liberation Sans, sans-serif" font-size="11.4" fill="#333" textLength="16.80" lengthAdjust="spacingAndGlyphs" >0.6</text>
<text x="190.71" y="733.90" font-family="Liberation Sans, sans-serif" font-size="11.4" fill="#333" textLength="17.01" lengthAdjust="spacingAndGlyphs" >0.8</text>
<text x="227.10" y="733.90" font-family="Liberation Sans, sans-serif" font-size="11.4" fill="#333" textLength="16.76" lengthAdjust="spacingAndGlyphs" >1.0</text>
<text x="262.89" y="733.90" font-family="Liberation Sans, sans-serif" font-size="11.4" fill="#333" textLength="16.81" lengthAdjust="spacingAndGlyphs" >1.2</text>
<text x="296.24" y="733.90" font-family="Liberation Sans, sans-serif" font-size="11.4" fill="#333" textLength="15.87" lengthAdjust="spacingAndGlyphs" >1.4</text>
<line x1="97.7" y1="667" x2="269.9" y2="676.5" stroke="#111" stroke-width="1.3"/>
<circle cx="99.1" cy="715.6" r="4.4" fill="#7f7f7f" stroke="#8eaadb" stroke-width="0.8"/>
<circle cx="115.6" cy="620.6" r="4.4" fill="#c49300" stroke="#8eaadb" stroke-width="0.8"/>
<circle cx="217" cy="655.8" r="4.4" fill="#548235" stroke="#8eaadb" stroke-width="0.8"/>
<circle cx="222.9" cy="685.8" r="4.4" fill="#c55a11" stroke="#8eaadb" stroke-width="0.8"/>
<circle cx="270.1" cy="690.7" r="4.4" fill="#4472c4" stroke="#8eaadb" stroke-width="0.8"/>
<line x1="402.10" y1="720.00" x2="658.90" y2="720.00" stroke="#d9d9d9" stroke-width="1.4"/>
<text x="393.91" y="723.50" font-family="Liberation Sans, sans-serif" font-size="10.3" fill="#2a2a2a" textLength="5.90" lengthAdjust="spacingAndGlyphs" >0</text>
<line x1="402.10" y1="688.48" x2="658.90" y2="688.48" stroke="#d9d9d9" stroke-width="1.4"/>
<text x="393.94" y="691.98" font-family="Liberation Sans, sans-serif" font-size="10.3" fill="#2a2a2a" textLength="5.90" lengthAdjust="spacingAndGlyphs" >5</text>
<line x1="402.10" y1="656.95" x2="658.90" y2="656.95" stroke="#d9d9d9" stroke-width="1.4"/>
<text x="388.02" y="660.45" font-family="Liberation Sans, sans-serif" font-size="10.3" fill="#2a2a2a" textLength="11.80" lengthAdjust="spacingAndGlyphs" >10</text>
<line x1="402.10" y1="625.42" x2="658.90" y2="625.42" stroke="#d9d9d9" stroke-width="1.4"/>
<text x="388.05" y="628.92" font-family="Liberation Sans, sans-serif" font-size="10.3" fill="#2a2a2a" textLength="11.80" lengthAdjust="spacingAndGlyphs" >15</text>
<line x1="402.10" y1="593.90" x2="658.90" y2="593.90" stroke="#d9d9d9" stroke-width="1.4"/>
<text x="388.02" y="597.40" font-family="Liberation Sans, sans-serif" font-size="10.3" fill="#2a2a2a" textLength="11.80" lengthAdjust="spacingAndGlyphs" >20</text>
<line x1="404.40" y1="593.90" x2="404.40" y2="720.00" stroke="#c8c8c8" stroke-width="1.4"/>
<text x="396.02" y="734.70" font-family="Liberation Sans, sans-serif" font-size="11.4" fill="#333" textLength="16.52" lengthAdjust="spacingAndGlyphs" >0.0</text>
<text x="434.51" y="734.70" font-family="Liberation Sans, sans-serif" font-size="11.4" fill="#333" textLength="17.00" lengthAdjust="spacingAndGlyphs" >0.2</text>
<text x="470.82" y="734.70" font-family="Liberation Sans, sans-serif" font-size="11.4" fill="#333" textLength="16.61" lengthAdjust="spacingAndGlyphs" >0.4</text>
<text x="506.00" y="734.70" font-family="Liberation Sans, sans-serif" font-size="11.4" fill="#333" textLength="17.33" lengthAdjust="spacingAndGlyphs" >0.6</text>
<text x="539.83" y="734.70" font-family="Liberation Sans, sans-serif" font-size="11.4" fill="#333" textLength="16.37" lengthAdjust="spacingAndGlyphs" >0.8</text>
<text x="575.20" y="734.70" font-family="Liberation Sans, sans-serif" font-size="11.4" fill="#333" textLength="16.65" lengthAdjust="spacingAndGlyphs" >1.0</text>
<text x="611.63" y="734.70" font-family="Liberation Sans, sans-serif" font-size="11.4" fill="#333" textLength="16.15" lengthAdjust="spacingAndGlyphs" >1.2</text>
<text x="644.34" y="734.70" font-family="Liberation Sans, sans-serif" font-size="11.4" fill="#333" textLength="15.87" lengthAdjust="spacingAndGlyphs" >1.4</text>
<line x1="451.7" y1="672" x2="617.5" y2="678.5" stroke="#111" stroke-width="1.3"/>
<circle cx="446.4" cy="719.8" r="4.4" fill="#7f7f7f" stroke="#8eaadb" stroke-width="0.8"/>
<circle cx="462.5" cy="625.4" r="4.4" fill="#c49300" stroke="#8eaadb" stroke-width="0.8"/>
<circle cx="564.1" cy="650.4" r="4.4" fill="#548235" stroke="#8eaadb" stroke-width="0.8"/>
<circle cx="570" cy="688.5" r="4.4" fill="#c55a11" stroke="#8eaadb" stroke-width="0.8"/>
<circle cx="617" cy="694.5" r="4.4" fill="#4472c4" stroke="#8eaadb" stroke-width="0.8"/>
<text x="6.69" y="598.60" font-family="Liberation Sans, sans-serif" font-size="21" font-weight="bold" fill="#000" textLength="15.04" lengthAdjust="spacingAndGlyphs" >B</text>
<text x="359.14" y="598.50" font-family="Liberation Sans, sans-serif" font-size="21" font-weight="bold" fill="#000" textLength="15.55" lengthAdjust="spacingAndGlyphs" >C</text>
<text transform="translate(25.20,673.60) rotate(-90)" x="-0.81" y="0" font-family="Liberation Sans, sans-serif" font-size="18.6" fill="#000" textLength="39.99" lengthAdjust="spacingAndGlyphs">SHM</text>
<text transform="translate(373.90,704.10) rotate(-90)" x="-0.04" y="0" font-family="Liberation Sans, sans-serif" font-size="18.6" fill="#000" textLength="94.87" lengthAdjust="spacingAndGlyphs">AA changes</text>
<text x="184.48" y="759.60" font-family="Liberation Sans, sans-serif" font-size="18" fill="#000" textLength="33.82" lengthAdjust="spacingAndGlyphs" >MFI</text>
<text x="216.77" y="764.80" font-family="Liberation Sans, sans-serif" font-size="13.8" fill="#000" textLength="23.17" lengthAdjust="spacingAndGlyphs" >max</text>
<text x="530.88" y="760.80" font-family="Liberation Sans, sans-serif" font-size="18" fill="#000" textLength="33.82" lengthAdjust="spacingAndGlyphs" >MFI</text>
<text x="563.17" y="765.70" font-family="Liberation Sans, sans-serif" font-size="13.8" fill="#000" textLength="23.17" lengthAdjust="spacingAndGlyphs" >max</text>
</svg>
</body></html>
